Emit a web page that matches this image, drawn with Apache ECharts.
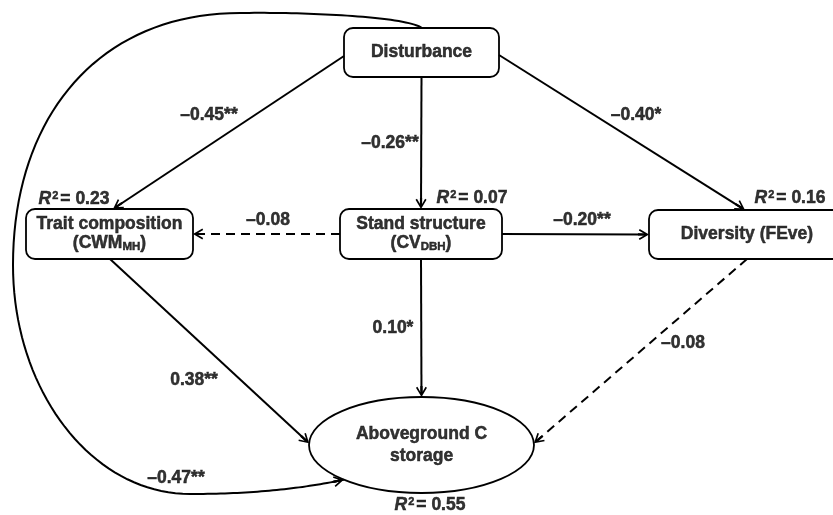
<!DOCTYPE html>
<html>
<head>
<meta charset="utf-8">
<script src="https://cdn.jsdelivr.net/npm/echarts@6/dist/echarts.min.js"></script>
<style>
  html, body { margin: 0; padding: 0; background: #fff; }
  #chart { width: 833px; height: 515px; }
</style>
</head>
<body>
<div id="chart"></div>
<script>
// variables del modelo
const nodeIds = ['dist', 'trait', 'stand', 'div', 'agc']
const nodeNames = [
    'Disturbance',
    'Trait composition\n(CWM{sub|MH})',
    'Stand structure\n(CV{sub|DBH})',
    'Diversity (FEve)',
    'Aboveground C\nstorage'
]
const r2Values = [null, 0.23, 0.07, 0.16, 0.55]

// coeficientes de ruta
const pathFrom = ['dist', 'dist', 'dist', 'stand', 'stand', 'stand', 'trait', 'div', 'dist']
const pathTo = ['trait', 'stand', 'div', 'trait', 'div', 'agc', 'agc', 'agc', 'agc']
const pathCoef = [-0.45, -0.26, -0.40, -0.08, -0.20, 0.10, 0.38, -0.08, -0.47]
const pathSig = ['**', '**', '*', '', '**', '*', '**', '', '**']

// disposicion (pixeles)
const nodeBox = {
    dist: { c: [421.5, 52.5], size: [155, 49] },
    trait: { c: [109.5, 234], size: [167, 50] },
    stand: { c: [421, 234], size: [162, 50] },
    div: { c: [747, 234.5], size: [196, 49] },
    agc: { c: [421.5, 445], size: [225, 96], ellipse: true }
}
const nodeLineHeight = { dist: 20, trait: 19, stand: 19, div: 20, agc: 22 }
const pathAnchors = [
    [['left', 3.5], ['top', 3.5]],
    [['bottom', 0], ['top', 0]],
    [['right', 2.5], ['top', -2]],
    [['left', 0], ['right', 0]],
    [['right', 0], ['left', 0]],
    [['bottom', 0], ['angle', 270]],
    [['bottom', 0.5], ['angle', 182]],
    [['bottom', 0], ['angle', -2]],
    [['top', 0.5], ['angle', 133.7]]
]
// puntos de control de la curva Disturbance -> Aboveground
const curveCtrl = [
    [[405, 16], [300, 12], [240, 13]],
    [[100, 13], [13, 115], [13, 265]],
    [[13, 391], [92, 494], [190, 494]],
    [[250, 494], [300, 489]]
]
const coefLabelPos = [[209, 115], [390, 143], [636, 115], [268, 220], [582, 220], [393, 328], [194, 380], [683, 343], [176, 478]]
const r2LabelPos = { trait: [74, 199], stand: [472, 198], div: [790, 198], agc: [430, 505] }

const FONT = '"Liberation Sans", Arial, sans-serif'
const FS = 17.5
const ARROW = 11
const CORNER = 9
const arrowPath = 'path://M10,0 L20,17 L17.41,18.52 L12,9.32 L12,20 L8,20 L8,9.32 L2.59,18.52 L0,17 Z'

const anchorPt = (id, a) => {
    const b = nodeBox[id]
    const [cx, cy] = b.c
    const [w, h] = b.size
    const [side, off] = a
    if (side === 'angle') {
        const t = off * Math.PI / 180
        return [cx + w / 2 * Math.cos(t), cy + h / 2 * Math.sin(t)]
    }
    if (side === 'left') return [cx - w / 2, cy + off]
    if (side === 'right') return [cx + w / 2, cy + off]
    if (side === 'top') return [cx + off, cy - h / 2]
    return [cx + off, cy + h / 2]
}

const cubic = (p0, p1, p2, p3, t) => {
    const u = 1 - t
    return [
        u * u * u * p0[0] + 3 * u * u * t * p1[0] + 3 * u * t * t * p2[0] + t * t * t * p3[0],
        u * u * u * p0[1] + 3 * u * u * t * p1[1] + 3 * u * t * t * p2[1] + t * t * t * p3[1]
    ]
}

const fmtCoef = (v, s) => (v < 0 ? '\u2013' : '') + Math.abs(v).toFixed(2) + s

const straightEdges = []
const curveEdges = []
pathFrom.forEach((from, i) => {
    const p0 = anchorPt(from, pathAnchors[i][0])
    const tip = anchorPt(pathTo[i], pathAnchors[i][1])
    const dashed = pathSig[i] === ''
    if (pathFrom[i] === 'dist' && pathTo[i] === 'agc') {
        // curva grande por la izquierda
        let prev = p0
        const pts = [p0]
        curveCtrl.forEach((seg, k) => {
            const end = k === curveCtrl.length - 1 ? tip : seg[2]
            for (let s = 1; s <= 40; s++) pts.push(cubic(prev, seg[0], seg[1], end, s / 40))
            prev = end
        })
        curveEdges.push({ coords: pts })
        // tramo corto final solo para la punta de flecha
        const before = pts[pts.length - 4]
        const dx = tip[0] - before[0], dy = tip[1] - before[1]
        const len = Math.hypot(dx, dy)
        const d = [dx / len, dy / len]
        straightEdges.push({
            coords: [[tip[0] - d[0] * 10, tip[1] - d[1] * 10], [tip[0] - d[0] * ARROW / 2, tip[1] - d[1] * ARROW / 2]]
        })
        return
    }
    const dx = tip[0] - p0[0], dy = tip[1] - p0[1]
    const len = Math.hypot(dx, dy)
    const end = [tip[0] - dx / len * ARROW / 2, tip[1] - dy / len * ARROW / 2]
    straightEdges.push({
        coords: [p0, end],
        lineStyle: dashed ? { type: [9, 6] } : {}
    })
})

const nodeCenters = nodeIds.map(id => nodeBox[id].c)
const nodeLabelData = nodeIds.map(id => ({
    value: nodeBox[id].c,
    label: { lineHeight: nodeLineHeight[id] }
}))

const r2Data = nodeIds
    .map((id, i) => ({ id, v: r2Values[i] }))
    .filter(d => d.v !== null)
    .map(d => ({ value: r2LabelPos[d.id], r2: d.v }))

const textBase = {
    show: true,
    position: 'inside',
    color: '#000',
    fontFamily: FONT,
    fontWeight: 'bold',
    fontSize: FS,
    textBorderColor: '#000',
    textBorderWidth: 0.5
}

const renderNode = (params, api) => {
    const id = nodeIds[params.dataIndex]
    const [cx, cy] = api.coord([api.value(0), api.value(1)])
    const [w, h] = nodeBox[id].size
    const style = { fill: '#fff', stroke: '#000', lineWidth: 1.8 }
    if (nodeBox[id].ellipse) {
        return { type: 'ellipse', shape: { cx, cy, rx: w / 2, ry: h / 2 }, style }
    }
    return { type: 'rect', shape: { x: cx - w / 2, y: cy - h / 2, width: w, height: h, r: CORNER }, style }
}

const chart = echarts.init(document.getElementById('chart'))
chart.setOption({
    animation: false,
    backgroundColor: '#fff',
    grid: { left: 0, right: 0, top: 0, bottom: 0 },
    xAxis: { type: 'value', min: 0, max: 833, show: false },
    yAxis: { type: 'value', min: 0, max: 515, inverse: true, show: false },
    series: [
        {
            type: 'custom',
            z: 2,
            clip: false,
            data: nodeCenters,
            renderItem: renderNode,
            silent: true
        },
        {
            type: 'scatter',
            z: 5,
            data: nodeLabelData,
            symbolSize: 1,
            itemStyle: { color: 'rgba(0,0,0,0)' },
            label: {
                ...textBase,
                formatter: p => nodeNames[p.dataIndex],
                rich: {
                    sub: { fontSize: 11.5, verticalAlign: 'bottom' }
                }
            },
            emphasis: { disabled: true }
        },
        {
            type: 'lines',
            coordinateSystem: 'cartesian2d',
            polyline: true,
            z: 3,
            data: curveEdges,
            lineStyle: { color: '#000', width: 2, opacity: 1 },
            emphasis: { disabled: true }
        },
        {
            type: 'lines',
            coordinateSystem: 'cartesian2d',
            z: 3,
            data: straightEdges,
            symbol: ['none', arrowPath],
            symbolSize: ARROW,
            lineStyle: { color: '#000', width: 2, opacity: 1 },
            emphasis: { disabled: true }
        },
        {
            type: 'scatter',
            z: 4,
            data: coefLabelPos,
            symbolSize: 1,
            itemStyle: { color: 'rgba(0,0,0,0)' },
            label: {
                ...textBase,
                formatter: p => fmtCoef(pathCoef[p.dataIndex], pathSig[p.dataIndex])
            },
            emphasis: { disabled: true }
        },
        {
            type: 'scatter',
            z: 4,
            data: r2Data,
            symbolSize: 1,
            itemStyle: { color: 'rgba(0,0,0,0)' },
            label: {
                ...textBase,
                formatter: p => '{i|R}{sup|2}= ' + p.data.r2.toFixed(2),
                rich: {
                    i: { fontStyle: 'italic' },
                    sup: { fontSize: 11, verticalAlign: 'top', padding: [0, 2, 0, 1] }
                }
            },
            emphasis: { disabled: true }
        }
    ]
})
</script>
</body>
</html>
